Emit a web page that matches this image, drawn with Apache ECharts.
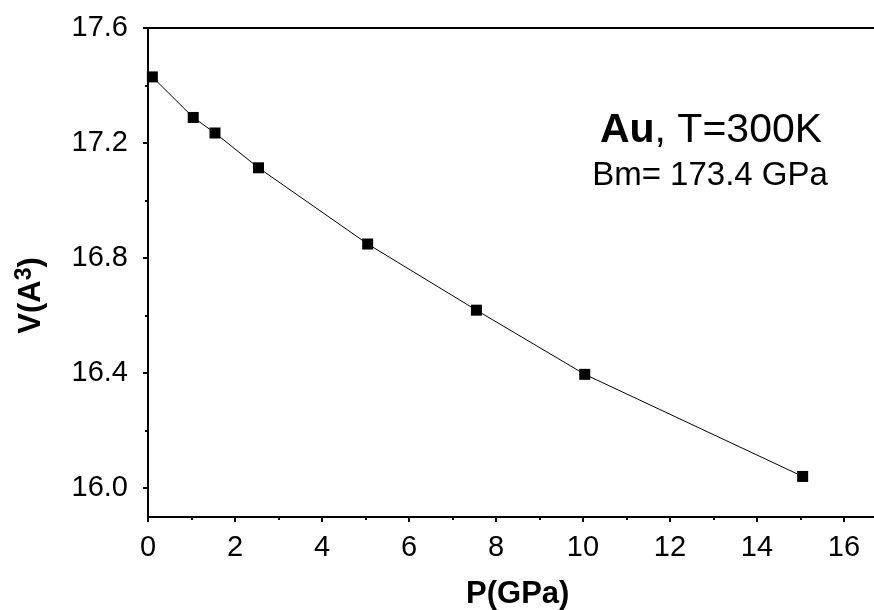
<!DOCTYPE html>
<html>
<head>
<meta charset="utf-8">
<script src="https://cdn.jsdelivr.net/npm/echarts@6/dist/echarts.min.js"></script>
<style>html,body{margin:0;padding:0;background:#fff;}#c{width:874px;height:610px;}</style>
</head>
<body>
<div id="c"></div>
<script>
var pressure = [0.1, 1.04, 1.54, 2.54, 5.05, 7.55, 10.04, 15.05];
var volume = [17.43, 17.289, 17.235, 17.114, 16.849, 16.619, 16.396, 16.041];
var xMajorTicks = [0, 2, 4, 6, 8, 10, 12, 14, 16];
var xMinorTicks = [1, 3, 5, 7, 9, 11, 13, 15];
var yMajorTicks = [16.0, 16.4, 16.8, 17.2, 17.6];
var yMinorTicks = [16.2, 16.6, 17.0, 17.4];
var xName = 'P(GPa)';
var annotation1Bold = 'Au';
var annotation1Rest = ', T=300K';
var annotation2 = 'Bm= 173.4 GPa';

var FONT = '"Liberation Sans", Arial, Helvetica, sans-serif';
var chart = echarts.init(document.getElementById('c'), null, {renderer: 'canvas'});
var data = pressure.map(function (p, i) { return [p, volume[i]]; });

var baseX = {min: 0, max: 17, splitLine: {show: false}, gridIndex: 0};
var baseY = {min: 15.9, max: 17.6, splitLine: {show: false}, gridIndex: 0};

chart.setOption({
  backgroundColor: '#fff',
  animation: false,
  grid: {left: 148, top: 28, right: -13.5, bottom: 93, show: true, borderColor: '#000', borderWidth: 2,
    containLabel: false, outerBoundsMode: 'none'},
  xAxis: [
    Object.assign({}, baseX, {
      type: 'value', position: 'bottom',
      name: xName, nameLocation: 'middle', nameGap: 62,
      nameTextStyle: {fontFamily: FONT, fontSize: 31, fontWeight: 'bold', color: '#000'},
      axisLine: {show: true, onZero: false, lineStyle: {color: '#000', width: 2}},
      axisTick: {show: true, inside: false, length: 5, lineStyle: {color: '#000', width: 2}, customValues: xMajorTicks},
      axisLabel: {show: true, margin: 16, fontFamily: FONT, fontSize: 29, color: '#000', customValues: xMajorTicks,
        formatter: function (v) { return String(v); }}
    }),
    Object.assign({}, baseX, {
      type: 'value', position: 'bottom',
      axisLine: {show: false, onZero: false},
      axisTick: {show: true, inside: false, length: 3, lineStyle: {color: '#000', width: 2}, customValues: xMinorTicks},
      axisLabel: {show: false}
    })
  ],
  yAxis: [
    Object.assign({}, baseY, {
      type: 'value', position: 'left',
      name: '{n|V(A}{s|3}{n|)}', nameLocation: 'middle', nameGap: 98, nameRotate: 90,
      nameTextStyle: {
        fontFamily: FONT, fontSize: 31, fontWeight: 'bold', color: '#000', padding: [0, 46, 0, 0],
        rich: {
          n: {fontFamily: FONT, fontSize: 31, fontWeight: 'bold', color: '#000'},
          s: {fontFamily: FONT, fontSize: 23, fontWeight: 'bold', color: '#000', verticalAlign: 'top', padding: [0, 0, 14, 0]}
        }
      },
      axisLine: {show: true, onZero: false, lineStyle: {color: '#000', width: 2}},
      axisTick: {show: true, inside: false, length: 5, lineStyle: {color: '#000', width: 2}, customValues: yMajorTicks},
      axisLabel: {show: true, margin: 20, fontFamily: FONT, fontSize: 29, color: '#000', customValues: yMajorTicks,
        formatter: function (v) { return Number(v).toFixed(1); }}
    }),
    Object.assign({}, baseY, {
      type: 'value', position: 'left',
      axisLine: {show: false, onZero: false},
      axisTick: {show: true, inside: false, length: 3, lineStyle: {color: '#000', width: 2}, customValues: yMinorTicks},
      axisLabel: {show: false}
    })
  ],
  graphic: [
    {type: 'text', x: 711, y: 131, style: {
      text: '{b|' + annotation1Bold + '}{r|' + annotation1Rest + '}', align: 'center', verticalAlign: 'middle',
      rich: {
        b: {fontFamily: FONT, fontSize: 41, fontWeight: 'bold', fill: '#000'},
        r: {fontFamily: FONT, fontSize: 41, fill: '#000'}
      }
    }},
    {type: 'text', x: 710, y: 176, style: {
      text: annotation2, align: 'center', verticalAlign: 'middle',
      fontFamily: FONT, fontSize: 33, fill: '#000'
    }}
  ],
  series: [{
    type: 'line', xAxisIndex: 0, yAxisIndex: 0,
    data: data,
    symbol: 'rect', symbolSize: 11,
    itemStyle: {color: '#000'},
    lineStyle: {color: '#000', width: 1},
    clip: false
  }]
});
</script>
</body>
</html>
